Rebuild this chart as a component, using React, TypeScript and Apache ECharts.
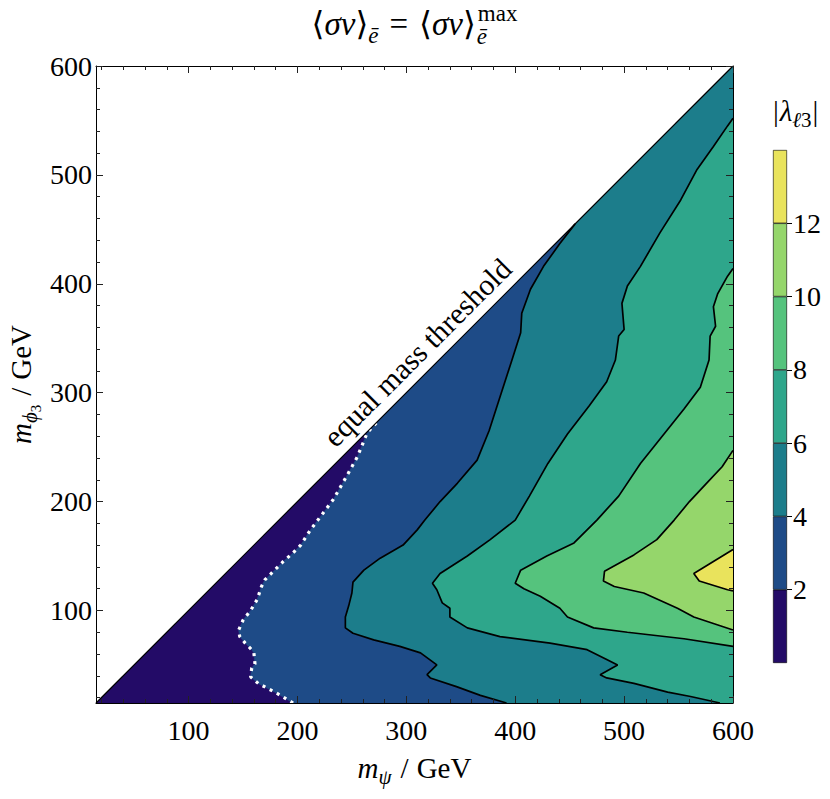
import React, { useEffect, useRef } from 'react';
import * as echarts from 'echarts';

const FONT = "'Liberation Serif', 'DejaVu Serif', serif";

// axis ranges (GeV)
const AXIS_MIN = 15;
const AXIS_MAX = 600;
const majorTicks = [100, 200, 300, 400, 500, 600];
const minorTicks = [20, 40, 60, 80, 120, 140, 160, 180, 220, 240, 260, 280, 320, 340, 360, 380, 420, 440, 460, 480, 520, 540, 560, 580];

// colour levels of |lambda_l3|
const levels = [0, 2, 4, 6, 8, 10, 12, 14];
const levelColors = ['#230b67', '#1e4b87', '#1c7d8b', '#2ea68b', '#55c37d', '#95d66b', '#e9e35c'];
const colorbarTicks = [2, 4, 6, 8, 10, 12];

// contour lines [m_psi, m_phi3] in GeV
const contour2 = [[196, 15], [181, 24], [164, 33], [157, 39], [158, 47], [161, 51], [160, 61], [158, 64], [152, 70], [147, 76], [146, 82], [150, 91], [157, 100], [163, 110], [167, 122], [170, 128], [178, 136], [187, 145], [195, 152], [203, 160], [212, 174], [218, 182], [233, 202], [245, 223], [255, 241], [264, 263], [274, 274]];
const contour4 = [[392, 15], [368, 22], [346, 30], [322, 38], [319, 41], [328, 50], [313, 61], [294, 67], [270, 73], [251, 79], [244, 84], [244, 94], [247, 104], [250, 116], [251, 126], [261, 137], [276, 148], [297, 160], [310, 174], [317, 183], [331, 200], [347, 217], [365, 238], [376, 265], [386, 296], [397, 330], [405, 355], [406, 373], [414, 395], [426, 416], [441, 437], [455, 455]];
const contour6 = [[588, 15], [561, 21], [540, 25], [509, 33], [484, 38], [478, 41], [494, 50], [484, 55], [466, 64], [432, 70], [386, 76], [356, 84], [340, 94], [340, 102], [333, 107], [328, 119], [324, 125], [331, 134], [356, 150], [377, 165], [400, 183], [413, 205], [430, 235], [448, 262], [468, 288], [484, 310], [492, 330], [495, 352], [500, 358], [498, 382], [503, 398], [515, 416], [533, 447], [552, 477], [567, 505], [582, 526], [595, 545], [600, 552]];
const contour8 = [[600, 67], [555, 74], [503, 80], [472, 84], [448, 94], [441, 102], [423, 113], [408, 120], [400, 125], [405, 137], [429, 150], [454, 162], [475, 183], [495, 205], [515, 235], [535, 260], [555, 285], [570, 305], [578, 330], [579, 352], [584, 361], [582, 379], [586, 391], [595, 407], [600, 414]];
const contour10 = [[600, 82], [564, 94], [549, 102], [518, 116], [491, 122], [481, 127], [482, 136], [509, 151], [530, 165], [546, 183], [560, 200], [575, 216], [590, 232], [600, 247]];
const contour12 = [[600, 118], [595, 119], [569, 127], [564, 134], [600, 156]];
const diagonal = [[AXIS_MIN, AXIS_MIN], [AXIS_MAX, AXIS_MAX]];

// label anchor for "equal mass threshold" (data coords)
const thresholdLabelAt = [310, 337];

type Piece = { t: string; s?: number; it?: boolean; dy?: number; adv?: boolean; gap?: number };

const measureCtx = (() => {
  const c = document.createElement('canvas');
  return c.getContext('2d') as CanvasRenderingContext2D;
})();
function measure(text: string, size: number, italic: boolean) {
  measureCtx.font = `${italic ? 'italic ' : ''}${size}px ${FONT}`;
  return measureCtx.measureText(text).width;
}
function mathLabel(pieces: Piece[], align: 'center' | 'left', baseSize: number) {
  let x = 0;
  let pend = 0;
  const els: any[] = [];
  for (const p of pieces) {
    const s = p.s ?? baseSize;
    x += p.gap ?? 0;
    const w = measure(p.t, s, !!p.it);
    els.push({
      type: 'text',
      x,
      y: (p.dy ?? 0) - 0.34 * s,
      silent: true,
      style: {
        text: p.t, fontSize: s, fontFamily: FONT, fontStyle: p.it ? 'italic' : 'normal',
        fill: '#000', align: 'left', textAlign: 'left', verticalAlign: 'middle', textVerticalAlign: 'middle',
      },
    });
    if (p.adv === false) pend = Math.max(pend, w);
    else { x += Math.max(w, pend); pend = 0; }
  }
  const shift = align === 'center' ? -x / 2 : 0;
  els.forEach((e) => { e.x += shift; });
  return els;
}

const titlePieces: Piece[] = [
  { t: '⟨' }, { t: 'σv', it: true }, { t: '⟩' }, { t: 'ē', s: 23, it: true, dy: 8 },
  { t: '=', gap: 11 }, { t: '⟨', gap: 11 }, { t: 'σv', it: true }, { t: '⟩' },
  { t: 'ē', s: 23, it: true, dy: 9, adv: false, gap: 1 }, { t: 'max', s: 23, dy: -14, gap: 1 },
];
const xLabelPieces: Piece[] = [{ t: 'm', it: true }, { t: 'ψ', s: 21, it: true, dy: 6 }, { t: '/', gap: 9 }, { t: 'GeV', gap: 8 }];
const yLabelPieces: Piece[] = [{ t: 'm', it: true }, { t: 'ϕ', s: 21, it: true, dy: 6 }, { t: '3', s: 15, dy: 10 }, { t: '/', gap: 9 }, { t: 'GeV', gap: 8 }];
const cbLabelPieces: Piece[] = [{ t: '|' }, { t: 'λ', it: true, gap: 1 }, { t: 'ℓ', s: 21, it: true, dy: 6 }, { t: '3', s: 21, dy: 6 }, { t: '|', gap: 1 }];

const fills = [
  { pts: [[AXIS_MIN, AXIS_MIN], [AXIS_MAX, AXIS_MIN], [AXIS_MAX, AXIS_MAX]], c: 0 },
  { pts: [...contour2, [AXIS_MAX, AXIS_MAX], [AXIS_MAX, AXIS_MIN]], c: 1 },
  { pts: [...contour4, [AXIS_MAX, AXIS_MAX], [AXIS_MAX, AXIS_MIN]], c: 2 },
  { pts: [...contour6, [AXIS_MAX, AXIS_MIN]], c: 3 },
  { pts: contour8, c: 4 },
  { pts: contour10, c: 5 },
  { pts: contour12, c: 6 },
];

export default function App() {
  const ref = useRef<HTMLDivElement>(null);
  useEffect(() => {
    document.body.style.margin = '0';
    const chart = echarts.init(ref.current!, null, { renderer: 'svg' });

    const labelStyle = { fontSize: 28, fontFamily: FONT, color: '#000' };
    const tickStyle = { color: '#222', width: 1 };
    const spine = { show: true, onZero: false, lineStyle: { color: '#000', width: 1 } };
    const base = { type: 'value', min: AXIS_MIN, max: AXIS_MAX, gridIndex: 0, z: 10, splitLine: { show: false } };
    const major = (labels: boolean, margin: number) => ({
      ...base,
      axisLine: spine,
      axisTick: { show: true, inside: true, length: 7, customValues: majorTicks, lineStyle: tickStyle },
      axisLabel: labels ? { show: true, customValues: majorTicks, margin, ...labelStyle } : { show: false },
    });
    const minor = () => ({
      ...base,
      axisLine: { show: false },
      axisTick: { show: true, inside: true, length: 4, customValues: minorTicks, lineStyle: tickStyle },
      axisLabel: { show: false },
    });

    const option: any = {
      animation: false,
      backgroundColor: '#fff',
      grid: [
        { left: 96, top: 66, width: 637, height: 637 },
        { left: 773, top: 150, width: 14, height: 513 },
      ],
      xAxis: [
        { ...major(true, 13), position: 'bottom' },
        { ...minor(), position: 'bottom' },
        { ...major(false, 0), position: 'top' },
        { ...minor(), position: 'top' },
        { type: 'category', gridIndex: 1, data: ['cb'], show: false },
      ],
      yAxis: [
        { ...major(true, 4), position: 'left' },
        { ...minor(), position: 'left' },
        { ...major(false, 0), position: 'right' },
        { ...minor(), position: 'right' },
        {
          type: 'value', gridIndex: 1, min: levels[0], max: levels[levels.length - 1], position: 'right',
          splitLine: { show: false }, axisLine: { show: false },
          axisTick: { show: true, inside: false, length: 5, customValues: colorbarTicks, lineStyle: { color: '#000', width: 1 } },
          axisLabel: { show: true, customValues: colorbarTicks, margin: 6, ...labelStyle },
        },
      ],
      series: [
        {
          type: 'custom',
          coordinateSystem: 'cartesian2d',
          xAxisIndex: 0, yAxisIndex: 0,
          silent: true, z: 1,
          data: fills.map(() => [AXIS_MIN, AXIS_MIN]),
          encode: { x: 0, y: 1 },
          renderItem: (params: any, api: any) => {
            const f = fills[params.dataIndex];
            const col = levelColors[f.c];
            return {
              type: 'polygon',
              shape: { points: f.pts.map((p) => api.coord(p)) },
              style: { fill: col, stroke: col, lineWidth: 0.6 },
            };
          },
        },
        ...[contour4, contour6, contour8, contour10, contour12].map((c) => ({
          type: 'line', xAxisIndex: 0, yAxisIndex: 0, data: c, symbol: 'none', silent: true, z: 3,
          lineStyle: { color: '#000', width: 1.7 },
        })),
        {
          type: 'line', xAxisIndex: 0, yAxisIndex: 0, data: contour2, symbol: 'none', silent: true, z: 4,
          lineStyle: { color: '#fff', width: 3.2, type: [3, 5], cap: 'butt' },
        },
        {
          type: 'line', xAxisIndex: 0, yAxisIndex: 0, data: diagonal, symbol: 'none', silent: true, z: 4,
          lineStyle: { color: '#000', width: 1.2 },
        },
        ...levelColors.map((col, i) => ({
          type: 'bar', xAxisIndex: 4, yAxisIndex: 4, stack: 'cb', silent: true,
          data: [levels[i + 1] - levels[i]], barWidth: '100%',
          itemStyle: { color: col, borderColor: '#000', borderWidth: 0.6 },
        })),
      ],
    };
    chart.setOption(option);

    const [tx, ty] = chart.convertToPixel({ xAxisIndex: 0, yAxisIndex: 0 } as any, thresholdLabelAt) as number[];
    chart.setOption({
      graphic: {
        elements: [
          { type: 'group', x: 414.5, y: 35, children: mathLabel(titlePieces, 'center', 33) },
          { type: 'group', x: 414.5, y: 778, children: mathLabel(xLabelPieces, 'center', 29) },
          { type: 'group', x: 31, y: 384.5, rotation: Math.PI / 2, children: mathLabel(yLabelPieces, 'center', 29) },
          { type: 'group', x: 773, y: 121, children: mathLabel(cbLabelPieces, 'left', 29) },
          {
            type: 'text', x: tx, y: ty, rotation: Math.PI / 4, silent: true,
            style: {
              text: 'equal mass threshold', fontSize: 30, fontFamily: FONT, fill: '#000',
              align: 'center', textAlign: 'center', verticalAlign: 'middle', textVerticalAlign: 'middle',
            },
          },
        ],
      },
    });
    return () => chart.dispose();
  }, []);
  return <div ref={ref} style={{ width: 830, height: 799 }} />;
}
